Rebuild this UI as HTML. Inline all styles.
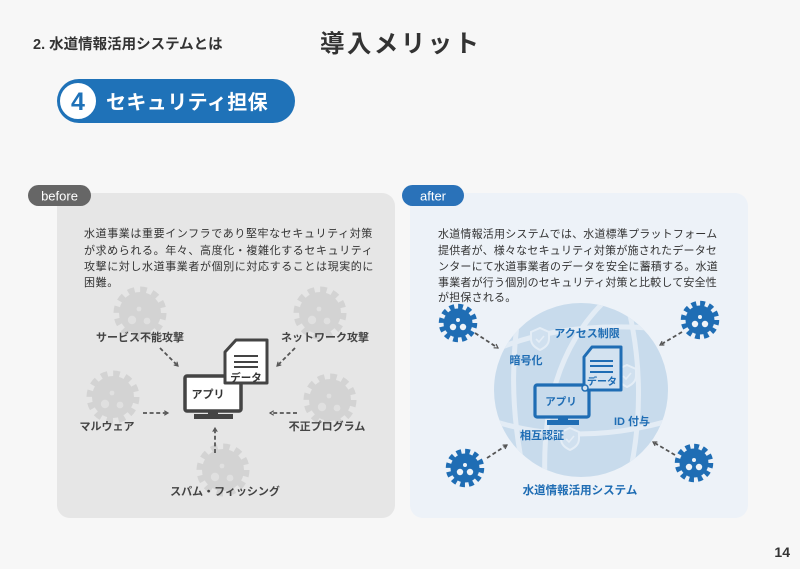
<!DOCTYPE html>
<html><head><meta charset="utf-8">
<style>
html,body{margin:0;padding:0;background:#f7f7f7;}
svg{display:block;}
text{font-family:"Liberation Sans","Noto Sans CJK JP",sans-serif;}
.b{font-weight:bold;}
</style></head>
<body>
<svg width="800" height="569" viewBox="0 0 800 569" xmlns="http://www.w3.org/2000/svg">
<defs>
  <marker id="ah" viewBox="0 0 8 8" refX="6" refY="4" markerWidth="6" markerHeight="6" orient="auto" markerUnits="userSpaceOnUse">
    <path d="M1,1 L6,4 L1,7" fill="none" stroke="#555" stroke-width="1.6"/>
  </marker>
  <g id="vg">
    <circle r="21" fill="#d3d3d3"/>
    <circle r="23" fill="none" stroke="#d3d3d3" stroke-width="7" stroke-dasharray="6.5 5.54"/>
    <circle cx="-8" cy="7" r="4.2" fill="#e0e0e0"/>
    <circle cx="7" cy="8" r="3.4" fill="#e0e0e0"/>
    <circle cx="-1" cy="-4" r="2.4" fill="#e0e0e0"/>
  </g>
  <g id="vb">
    <circle r="14.5" fill="#1f6db4"/>
    <circle r="16.5" fill="none" stroke="#1f6db4" stroke-width="5.5" stroke-dasharray="4.8 3.84"/>
    <circle cx="-5" cy="4" r="3.2" fill="#eef3f8"/>
    <circle cx="5" cy="4" r="3.2" fill="#eef3f8"/>
    <circle cx="0" cy="-3" r="2" fill="#eef3f8"/>
  </g>
  <g id="sh">
    <path d="M0,-10 L9,-6 L9,1 C9,7 4,10 0,12 C-4,10 -9,7 -9,1 L-9,-6 Z" fill="#d0e0ef" stroke="#e4edf6" stroke-width="2"/>
    <path d="M-4,1 L-1,4 L4,-2" fill="none" stroke="#e4edf6" stroke-width="1.6"/>
  </g>
  <clipPath id="gc"><circle cx="581" cy="390" r="87"/></clipPath>
</defs>

<!-- header -->
<text x="33" y="49" class="b" font-size="14.5" fill="#333">2. 水道情報活用システムとは</text>
<text x="320" y="52" class="b" font-size="24.5" fill="#333" letter-spacing="2.4">導入メリット</text>

<!-- badge -->
<rect x="57" y="79" width="238" height="44" rx="22" fill="#1f72b8"/>
<circle cx="78" cy="101" r="19" fill="#fff" stroke="#1f72b8" stroke-width="2"/>
<text x="78" y="110" class="b" font-size="25" fill="#1f72b8" text-anchor="middle">4</text>
<text x="106" y="109" class="b" font-size="20" fill="#fff" letter-spacing="0.4">セキュリティ担保</text>

<!-- before panel -->
<rect x="57" y="193" width="338" height="325" rx="13" fill="#e6e6e6"/>
<rect x="28" y="185" width="63" height="21" rx="10.5" fill="#666"/>
<text x="59.5" y="200.5" font-size="13" fill="#fff" text-anchor="middle">before</text>

<g font-size="11" fill="#333" letter-spacing="0.6">
<text x="84" y="237">水道事業は重要インフラであり堅牢なセキュリティ対策</text>
<text x="84" y="254">が求められる。年々、高度化・複雑化するセキュリティ</text>
<text x="84" y="270">攻撃に対し水道事業者が個別に対応することは現実的に</text>
<text x="84" y="286">困難。</text>
</g>

<use href="#vg" x="140" y="313"/>
<use href="#vg" x="320" y="313"/>
<use href="#vg" x="113" y="397"/>
<use href="#vg" x="330" y="400"/>
<use href="#vg" x="223" y="470"/>

<g class="b" font-size="11" fill="#444" text-anchor="middle">
<text x="140" y="341">サービス不能攻撃</text>
<text x="325" y="341">ネットワーク攻撃</text>
<text x="107" y="430">マルウェア</text>
<text x="327" y="430">不正プログラム</text>
<text x="225" y="495">スパム・フィッシング</text>
</g>

<g stroke="#555" stroke-width="1.8" stroke-dasharray="4 2.6" fill="none" marker-end="url(#ah)">
<line x1="160" y1="348" x2="178" y2="366"/>
<line x1="295" y1="348" x2="277" y2="366"/>
<line x1="143" y1="413" x2="168" y2="413"/>
<line x1="297" y1="413" x2="270" y2="413"/>
<line x1="215" y1="453" x2="215" y2="428"/>
</g>

<!-- before computer -->
<rect x="185" y="376" width="56" height="35" rx="2" fill="#fff" stroke="#444" stroke-width="3.5"/>
<rect x="208" y="411" width="10" height="4" fill="#444"/>
<rect x="194" y="414" width="39" height="5" fill="#444"/>
<text x="208" y="398" class="b" font-size="11" fill="#333" text-anchor="middle">アプリ</text>
<path d="M236,340 L267,340 L267,383 L225,383 L225,352 Z" fill="#fff" stroke="#444" stroke-width="3" stroke-linejoin="round"/>
<g stroke="#444" stroke-width="2">
<line x1="234" y1="356" x2="258" y2="356"/>
<line x1="234" y1="362" x2="258" y2="362"/>
<line x1="234" y1="367" x2="258" y2="367"/>
</g>
<text x="246" y="381" class="b" font-size="10.5" fill="#333" text-anchor="middle">データ</text>

<!-- after panel -->
<rect x="410" y="193" width="338" height="325" rx="13" fill="#edf2f8"/>
<rect x="402" y="185" width="62" height="21" rx="10.5" fill="#2a72b9"/>
<text x="433" y="200.5" font-size="13" fill="#fff" text-anchor="middle">after</text>

<g font-size="11" fill="#333" letter-spacing="0.2">
<text x="438" y="237.5">水道情報活用システムでは、水道標準プラットフォーム</text>
<text x="438" y="254">提供者が、様々なセキュリティ対策が施されたデータセ</text>
<text x="438" y="270">ンターにて水道事業者のデータを安全に蓄積する。水道</text>
<text x="438" y="286">事業者が行う個別のセキュリティ対策と比較して安全性</text>
<text x="438" y="301">が担保される。</text>
</g>

<!-- globe -->
<circle cx="581" cy="390" r="87" fill="#c8dbec"/>
<g clip-path="url(#gc)" fill="none" stroke="#e3ecf5" stroke-width="5">
<path d="M490,352 Q565,318 672,330"/>
<path d="M490,420 Q575,448 672,420"/>
<path d="M610,296 Q540,360 545,480"/>
<path d="M626,298 Q650,390 628,482"/>
<path d="M520,305 Q505,390 525,478"/>
</g>
<use href="#sh" x="540" y="338"/>
<use href="#sh" x="627" y="375"/>
<use href="#sh" x="570" y="438"/>

<g class="b" font-size="11" fill="#1f6db4" text-anchor="middle">
<text x="587" y="337">アクセス制限</text>
<text x="526" y="364">暗号化</text>
<text x="632" y="425">ID 付与</text>
<text x="542" y="439">相互認証</text>
<text x="580" y="494" font-size="11.5">水道情報活用システム</text>
</g>

<!-- after computer -->
<rect x="535" y="385" width="54" height="32" rx="2" fill="#c8dbec" stroke="#1f6db4" stroke-width="3.2"/>
<rect x="558" y="417" width="10" height="4" fill="#1f6db4"/>
<rect x="547" y="420" width="32" height="5" fill="#1f6db4"/>
<text x="561" y="405" class="b" font-size="10.5" fill="#1f6db4" text-anchor="middle">アプリ</text>
<path d="M592,347 L621,347 L621,390 L584,390 L584,357 Z" fill="#d3e2f0" stroke="#1f6db4" stroke-width="3" stroke-linejoin="round"/>
<g stroke="#1f6db4" stroke-width="2">
<line x1="590" y1="361" x2="613" y2="361"/>
<line x1="590" y1="366" x2="613" y2="366"/>
<line x1="590" y1="372" x2="613" y2="372"/>
</g>
<text x="602" y="385" class="b" font-size="10" fill="#1f6db4" text-anchor="middle">データ</text>
<circle cx="585" cy="388" r="3" fill="#d3e2f0" stroke="#1f6db4" stroke-width="1.5"/>

<use href="#vb" x="458" y="323"/>
<use href="#vb" x="700" y="320"/>
<use href="#vb" x="465" y="468"/>
<use href="#vb" x="694" y="463"/>

<g stroke="#555" stroke-width="1.8" stroke-dasharray="4 2.6" fill="none" marker-end="url(#ah)">
<line x1="475" y1="333" x2="498" y2="348"/>
<line x1="682" y1="332" x2="660" y2="345"/>
<line x1="487" y1="458" x2="507" y2="445"/>
<line x1="675" y1="455" x2="653" y2="442"/>
</g>

<text x="790" y="557" class="b" font-size="14" fill="#333" text-anchor="end">14</text>
</svg>
</body></html>
